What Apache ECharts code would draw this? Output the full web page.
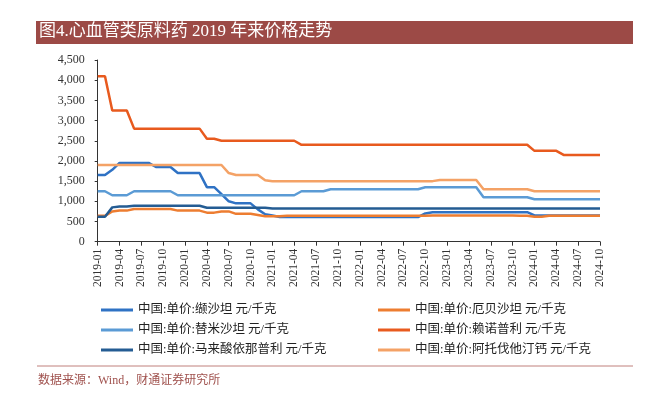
<!DOCTYPE html>
<html>
<head>
<meta charset="utf-8">
<script src="https://cdn.jsdelivr.net/npm/echarts@6/dist/echarts.min.js"></script>
<style>
html,body{margin:0;padding:0;background:#fff;}
#c{width:652px;height:394px;}
</style>
</head>
<body>
<div id="c"></div>
<script>
var categories = [
 "2019-01","2019-02","2019-03","2019-04","2019-05","2019-06","2019-07","2019-08","2019-09","2019-10","2019-11","2019-12",
 "2020-01","2020-02","2020-03","2020-04","2020-05","2020-06","2020-07","2020-08","2020-09","2020-10","2020-11","2020-12",
 "2021-01","2021-02","2021-03","2021-04","2021-05","2021-06","2021-07","2021-08","2021-09","2021-10","2021-11","2021-12",
 "2022-01","2022-02","2022-03","2022-04","2022-05","2022-06","2022-07","2022-08","2022-09","2022-10","2022-11","2022-12",
 "2023-01","2023-02","2023-03","2023-04","2023-05","2023-06","2023-07","2023-08","2023-09","2023-10","2023-11","2023-12",
 "2024-01","2024-02","2024-03","2024-04","2024-05","2024-06","2024-07","2024-08","2024-09","2024-10"
];

var valsartan = [
 1650,1650,1780,1950,1950,1950,1950,1950,1850,1850,1850,1700,
 1700,1700,1700,1350,1350,1180,1000,950,950,950,800,680,
 650,610,610,610,610,610,610,610,610,610,610,610,
 610,610,610,610,610,610,610,610,610,700,730,730,
 730,730,730,730,730,730,730,730,730,730,730,730,
 650,650,650,650,650,650,650,650,650,650
];

var irbesartan = [
 640,640,750,770,770,810,810,810,810,810,810,770,
 770,770,770,720,720,750,750,690,690,690,660,630,
 630,630,640,640,640,640,640,640,640,640,640,640,
 640,640,640,640,640,640,640,640,640,640,650,650,
 650,650,650,650,650,650,650,650,650,650,640,640,
 620,620,640,640,640,640,640,640,640,640
];

var telmisartan = [
 1250,1250,1150,1150,1150,1250,1250,1250,1250,1250,1250,1150,
 1150,1150,1150,1150,1150,1150,1150,1150,1150,1150,1150,1150,
 1150,1150,1150,1150,1250,1250,1250,1250,1300,1300,1300,1300,
 1300,1300,1300,1300,1300,1300,1300,1300,1300,1350,1350,1350,
 1350,1350,1350,1350,1350,1100,1100,1100,1100,1100,1100,1100,
 1050,1050,1050,1050,1050,1050,1050,1050,1050,1050
];

var lisinopril = [
 4100,4100,3250,3250,3250,2800,2800,2800,2800,2800,2800,2800,
 2800,2800,2800,2550,2550,2500,2500,2500,2500,2500,2500,2500,
 2500,2500,2500,2500,2400,2400,2400,2400,2400,2400,2400,2400,
 2400,2400,2400,2400,2400,2400,2400,2400,2400,2400,2400,2400,
 2400,2400,2400,2400,2400,2400,2400,2400,2400,2400,2400,2400,
 2250,2250,2250,2250,2150,2150,2150,2150,2150,2150
];

var enalapril = [
 620,620,850,870,870,890,890,890,890,890,890,890,
 890,890,890,840,840,840,840,840,840,840,840,840,
 820,820,820,820,820,820,820,820,820,820,820,820,
 820,820,820,820,820,820,820,820,820,820,820,820,
 820,820,820,820,820,820,820,820,820,820,820,820,
 820,820,820,820,820,820,820,820,820,820
];

var atorvastatin = [
 1900,1900,1900,1900,1900,1900,1900,1900,1900,1900,1900,1900,
 1900,1900,1900,1900,1900,1900,1700,1650,1650,1650,1650,1520,
 1500,1500,1500,1500,1500,1500,1500,1500,1500,1500,1500,1500,
 1500,1500,1500,1500,1500,1500,1500,1500,1500,1500,1500,1530,
 1530,1530,1530,1530,1530,1300,1300,1300,1300,1300,1300,1300,
 1250,1250,1250,1250,1250,1250,1250,1250,1250,1250
];

var seriesNames = [
 "中国:单价:缬沙坦 元/千克",
 "中国:单价:厄贝沙坦 元/千克",
 "中国:单价:替米沙坦 元/千克",
 "中国:单价:赖诺普利 元/千克",
 "中国:单价:马来酸依那普利 元/千克",
 "中国:单价:阿托伐他汀钙 元/千克"
];
var seriesData = [valsartan, irbesartan, telmisartan, lisinopril, enalapril, atorvastatin];
var seriesColors = ["#2F72C4", "#ED7D31", "#5B9BD5", "#E85A1E", "#245C93", "#F4A266"];

var yTicks = { min: 0, max: 4500, interval: 500 };

var serifFont = "'Liberation Serif', 'Noto Sans CJK SC', serif";

var chart = echarts.init(document.getElementById('c'), null, { renderer: 'canvas' });

var series = seriesData.map(function (d, k) {
  return {
    name: seriesNames[k],
    type: 'line',
    data: d,
    symbol: 'none',
    showSymbol: false,
    lineStyle: { width: 2.5, color: seriesColors[k] },
    itemStyle: { color: seriesColors[k] },
    animation: false
  };
});

var legendCommon = {
  orient: 'vertical',
  icon: 'rect',
  itemWidth: 32,
  itemHeight: 3,
  itemGap: 6,
  textStyle: { fontFamily: serifFont, fontSize: 12.5, color: '#222', lineHeight: 14 },
  selectedMode: false
};

var option = {
  backgroundColor: '#fff',
  animation: false,
  grid: { left: 97.7, right: 52, top: 60, bottom: 152.3, containLabel: false },
  xAxis: {
    type: 'category',
    data: categories,
    boundaryGap: false,
    axisLine: { show: true, lineStyle: { color: '#333', width: 1 } },
    axisTick: { show: true, interval: 2, length: 4, lineStyle: { color: '#333' } },
    axisLabel: { interval: 2, rotate: 90, margin: 7, fontFamily: serifFont, fontSize: 11.5, color: '#333' },
    splitLine: { show: false }
  },
  yAxis: {
    type: 'value',
    min: yTicks.min,
    max: yTicks.max,
    interval: yTicks.interval,
    axisLine: { show: true, lineStyle: { color: '#333', width: 1 } },
    axisTick: { show: true, length: 3, lineStyle: { color: '#333' } },
    axisLabel: {
      margin: 13,
      fontFamily: serifFont, fontSize: 12, color: '#333',
      formatter: function (v) { return v.toLocaleString('en-US'); }
    },
    splitLine: { show: false }
  },
  legend: [
    Object.assign({ left: 96, top: 298, data: [seriesNames[0], seriesNames[2], seriesNames[4]] }, legendCommon),
    Object.assign({ left: 373, top: 298, data: [seriesNames[1], seriesNames[3], seriesNames[5]] }, legendCommon)
  ],
  graphic: [
    { type: 'rect', left: 36, top: 21, shape: { width: 597, height: 23 }, style: { fill: '#9C4A46' }, silent: true },
    { type: 'text', left: 39, top: 23.5, style: { text: '图4.心血管类原料药 2019 年来价格走势', fill: '#fff', font: "17px 'Liberation Serif', 'Noto Sans CJK SC', serif" }, silent: true },
    { type: 'line', shape: { x1: 37, y1: 366, x2: 633, y2: 366 }, style: { stroke: '#C0807C', lineWidth: 1 }, silent: true },
    { type: 'text', left: 38, top: 375, style: { text: '数据来源：Wind，财通证券研究所', fill: '#A0524E', font: "12px 'Liberation Serif', 'Noto Sans CJK SC', serif" }, silent: true }
  ],
  series: series
};

chart.setOption(option);
</script>
</body>
</html>
